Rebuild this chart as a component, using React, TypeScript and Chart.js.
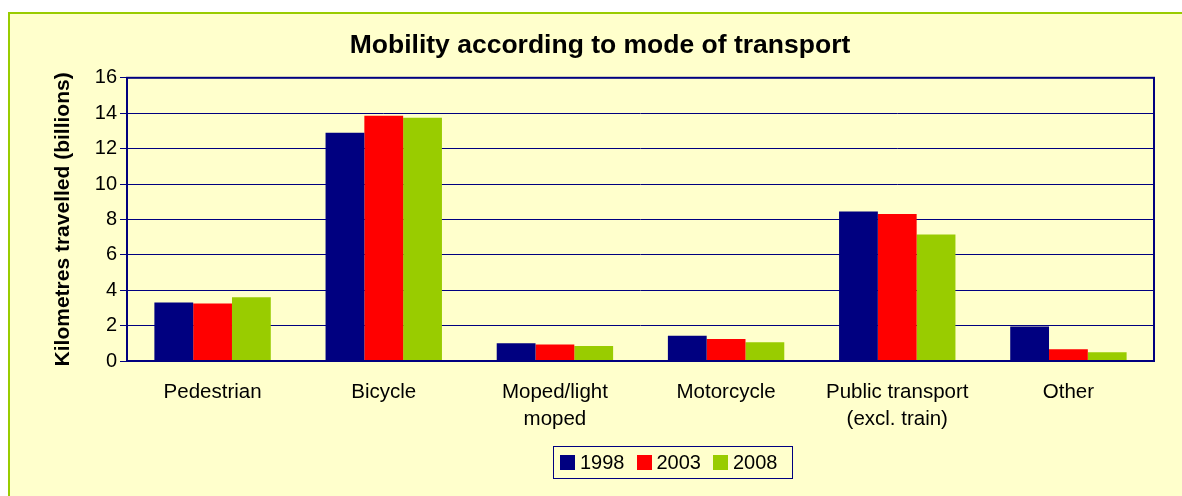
import React, { useEffect, useRef } from "react";
import { Chart, registerables } from "chart.js";

Chart.register(...registerables);

const categories: string[][] = [
  ["Pedestrian"],
  ["Bicycle"],
  ["Moped/light", "moped"],
  ["Motorcycle"],
  ["Public transport", "(excl. train)"],
  ["Other"],
];
const seriesNames = ["1998", "2003", "2008"];
const values1998 = [3.3, 12.9, 1.0, 1.42, 8.45, 1.95];
const values2003 = [3.25, 13.85, 0.93, 1.25, 8.3, 0.67];
const values2008 = [3.6, 13.75, 0.85, 1.06, 7.15, 0.5];
const seriesColors = ["#000080", "#FF0000", "#99CC00"];
const yTicks = [0, 2, 4, 6, 8, 10, 12, 14, 16];

const FONT = "'Liberation Sans', Arial, sans-serif";
const NAVY = "#000080";

const plotBorder = {
  id: "plotBorder",
  afterDatasetsDraw(chart: any) {
    const { ctx, chartArea } = chart;
    ctx.save();
    ctx.strokeStyle = NAVY;
    ctx.lineWidth = 2;
    ctx.strokeRect(chartArea.left, chartArea.top, chartArea.right - chartArea.left, chartArea.bottom - chartArea.top);
    ctx.restore();
  },
};

export default function App() {
  const ref = useRef<HTMLCanvasElement>(null);

  useEffect(() => {
    if (!ref.current) return;
    const chart = new Chart(ref.current, {
      type: "bar",
      data: {
        labels: categories,
        datasets: [values1998, values2003, values2008].map((d, i) => ({
          label: seriesNames[i],
          data: d,
          backgroundColor: seriesColors[i],
          borderWidth: 0,
          categoryPercentage: 0.68,
          barPercentage: 1.0,
        })),
      },
      options: {
        responsive: false,
        animation: false,
        maintainAspectRatio: false,
        layout: { padding: { left: 46, right: 28, top: 0, bottom: 0 } },
        plugins: {
          legend: { display: false },
          tooltip: { enabled: false },
          title: {
            display: true,
            text: "Mobility according to mode of transport",
            color: "#000",
            font: { family: FONT, size: 26.5, weight: "bold", lineHeight: 1.2 },
            padding: { top: 30, bottom: 16 },
          },
        },
        scales: {
          x: {
            grid: { display: false, drawTicks: false },
            border: { display: false },
            ticks: {
              color: "#000",
              font: { family: FONT, size: 20.5, lineHeight: 1.3 },
              padding: 18,
              maxRotation: 0,
              autoSkip: false,
            },
            afterFit: (s: any) => {
              s.height = 135;
            },
          },
          y: {
            min: 0,
            max: 16,
            afterBuildTicks: (s: any) => {
              s.ticks = yTicks.map((v) => ({ value: v }));
            },
            grid: { color: NAVY, lineWidth: 1, drawTicks: true, tickLength: 7, tickColor: NAVY },
            border: { display: false },
            ticks: {
              color: "#000",
              font: { family: FONT, size: 20 },
              padding: 3,
            },
            title: {
              display: true,
              text: "Kilometres travelled (billions)",
              color: "#000",
              font: { family: FONT, size: 21, weight: "bold", lineHeight: 1.2 },
              padding: { top: 5, bottom: 0 },
            },
            afterFit: (s: any) => {
              s.width = 81;
            },
          },
        },
      },
      plugins: [plotBorder],
    });
    return () => chart.destroy();
  }, []);

  return (
    <div style={{ position: "absolute", left: 0, top: 0, width: 1182, height: 496, background: "#fff", overflow: "hidden" }}>
      <div
        style={{
          position: "absolute",
          left: 8,
          top: 12,
          width: 1200,
          height: 520,
          background: "#FFFFCC",
          borderLeft: "2px solid #99CC00",
          borderTop: "2px solid #99CC00",
        }}
      />
      <canvas ref={ref} width={1182} height={496} style={{ position: "absolute", left: 0, top: 0, display: "block" }} />
      <div
        style={{
          position: "absolute",
          left: 553,
          top: 446,
          width: 240,
          height: 33,
          border: "1px solid " + NAVY,
          display: "flex",
          alignItems: "center",
          paddingLeft: 6,
          boxSizing: "border-box",
          fontFamily: FONT,
          fontSize: 20,
          color: "#000",
        }}
      >
        {seriesNames.map((n, i) => (
          <div key={n} style={{ display: "flex", alignItems: "center", marginRight: 12 }}>
            <span style={{ display: "inline-block", width: 15, height: 15, background: seriesColors[i], marginRight: 5 }} />
            <span>{n}</span>
          </div>
        ))}
      </div>
    </div>
  );
}
